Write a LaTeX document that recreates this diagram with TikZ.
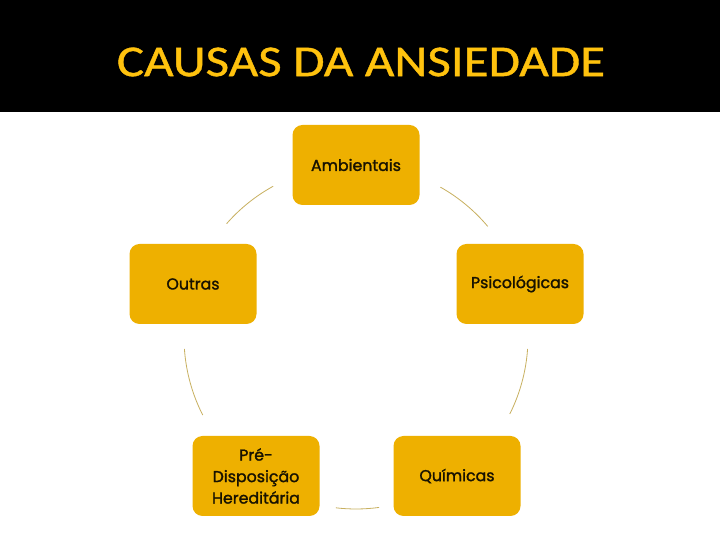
\documentclass[tikz,border=0pt]{standalone}
\usepackage{fontspec}
\setmainfont{Poppins}
\newfontfamily\boxfont{Poppins}[FakeBold=1.6]
\newfontfamily\titlefont{Carlito}[FakeBold=0.8]
\definecolor{boxfill}{HTML}{EEB000}
\definecolor{titlecol}{HTML}{FFC20E}
\definecolor{arccol}{HTML}{C8B060}
\begin{document}
\begin{tikzpicture}[x=1pt,y=1pt,
  box/.style={draw=none, fill=boxfill, rounded corners=10pt, minimum width=127pt, minimum height=80pt,
    text width=120pt, align=center, font=\boxfont\fontsize{15.8}{21.5}\selectfont, text=black!90!boxfill, inner sep=0pt},
  link/.style={draw=arccol, line width=0.8pt}]
\useasboundingbox (0,0) rectangle (720,540);
\fill[white] (0,0) rectangle (720,540);
\fill[black] (0,428) rectangle (720,540);
\node[text=titlecol, font=\titlefont\fontsize{44}{50}\selectfont, xscale=1.16] (title) at (361,478) {CAUSAS DA ANSIEDADE};
\node[box] (amb) at (356,375) {Ambientais};
\node[box] (psi) at (520,256) {Psicológicas};
\node[box] (qui) at (457,64) {Químicas};
\node[box] (pre) at (256,64) {Pré-\\Disposição\\Hereditária};
\node[box] (out) at (193,256) {Outras};
\coordinate (c) at (356,203);
\draw[link] (c) ++(60.6:172pt) arc[start angle=60.6, end angle=40, radius=172pt];
\draw[link] (c) ++(-4:172pt) arc[start angle=-4, end angle=-26.6, radius=172pt];
\draw[link] (c) ++(-82.3:172pt) arc[start angle=-82.3, end angle=-96.7, radius=172pt];
\draw[link] (c) ++(207:172pt) arc[start angle=207, end angle=184, radius=172pt];
\draw[link] (c) ++(138.8:172pt) arc[start angle=138.8, end angle=118.8, radius=172pt];
\end{tikzpicture}
\end{document}
